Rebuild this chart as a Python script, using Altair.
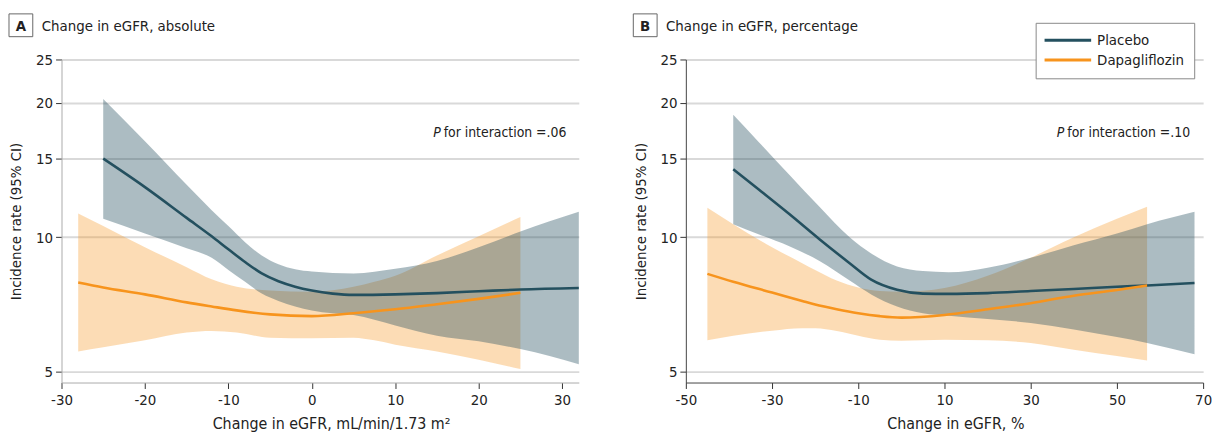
import altair as alt
import pandas as pd

FONT = "Liberation Sans Narrow, DejaVu Sans Condensed, Roboto, sans-serif"
PLACEBO = "#24505f"
DAPA = "#f7941d"

# ---------- Panel A: absolute change ----------
xA_p = [-25, -20, -15, -12, -10, -8, -6, -4, -2, 0, 2.5, 5, 10, 15, 20, 25, 32]
midA_p = [15.0, 12.95, 11.05, 10.05, 9.4, 8.8, 8.3, 7.97, 7.75, 7.6, 7.48, 7.43, 7.45, 7.5, 7.57, 7.64, 7.7]
loA_p = [11.0, 10.2, 9.45, 9.0, 8.45, 7.95, 7.48, 7.2, 7.0, 6.86, 6.76, 6.7, 6.35, 6.02, 5.85, 5.62, 5.2]
hiA_p = [20.4, 16.4, 13.1, 11.5, 10.6, 9.75, 9.1, 8.7, 8.48, 8.38, 8.32, 8.3, 8.5, 8.85, 9.5, 10.3, 11.4]

xA_d = [-28, -25, -20, -15, -12, -9, -5, 0, 5, 7.5, 10, 15, 20, 25]
midA_d = [7.92, 7.72, 7.45, 7.15, 7.0, 6.86, 6.72, 6.66, 6.76, 6.83, 6.9, 7.08, 7.28, 7.51]
loA_d = [5.55, 5.67, 5.88, 6.12, 6.17, 6.12, 5.96, 5.94, 5.96, 5.88, 5.75, 5.55, 5.32, 5.07]
hiA_d = [11.3, 10.6, 9.5, 8.57, 8.05, 7.75, 7.6, 7.55, 7.75, 7.95, 8.2, 9.1, 10.05, 11.1]

# ---------- Panel B: percentage change ----------
xB_p = [-39, -33, -26, -19, -12, -7, -1, 5, 11, 20, 30, 40, 50, 57, 68]
midB_p = [14.2, 12.77, 11.27, 9.9, 8.75, 8.04, 7.63, 7.48, 7.47, 7.5, 7.58, 7.66, 7.75, 7.8, 7.9]
loB_p = [10.7, 10.15, 9.55, 8.85, 8.0, 7.45, 7.0, 6.76, 6.67, 6.56, 6.43, 6.22, 5.98, 5.8, 5.47]
hiB_p = [18.8, 16.3, 13.8, 11.7, 10.0, 9.2, 8.6, 8.4, 8.35, 8.55, 9.0, 9.6, 10.2, 10.7, 11.4]

xB_d = [-45, -39, -30, -23, -20, -15, -10, -5, 0, 10, 20, 30, 40, 50, 57]
midB_d = [8.28, 7.95, 7.52, 7.2, 7.07, 6.9, 6.76, 6.66, 6.61, 6.7, 6.9, 7.12, 7.4, 7.62, 7.8]
loB_d = [5.88, 6.02, 6.18, 6.26, 6.26, 6.17, 6.02, 5.9, 5.87, 5.9, 5.88, 5.8, 5.6, 5.42, 5.3]
hiB_d = [11.65, 10.7, 9.5, 8.75, 8.45, 8.0, 7.72, 7.58, 7.55, 7.7, 8.2, 9.0, 10.0, 11.0, 11.7]

series = ["Placebo", "Dapagliflozin"]
y_ticks = [5, 10, 15, 20, 25]
y_domain = [4.73, 25]


def make_df(xp, lp, mp, hp, xd, ld, md, hd):
    a = pd.DataFrame({"x": xp, "lo": lp, "mid": mp, "hi": hp, "series": series[0]})
    b = pd.DataFrame({"x": xd, "lo": ld, "mid": md, "hi": hd, "series": series[1]})
    return pd.concat([a, b], ignore_index=True)


def panel(df, xdom, xticks, xtitle, letter, title, pval, p_x, p_y, dom_color, show_legend):
    xs = alt.Scale(domain=xdom, nice=False, zero=False)
    ys = alt.Scale(type="log", domain=y_domain, nice=False)
    base = alt.Chart(df)
    xenc = alt.X(
        "x:Q", scale=xs,
        axis=alt.Axis(
            values=xticks, title=xtitle, grid=False, domainColor=dom_color,
            tickColor="#333", tickSize=6, labelFontSize=15, titleFontSize=16,
            labelFont=FONT, titleFont=FONT, titleFontWeight="normal",
            labelColor="#222", titleColor="#222", labelPadding=4, titlePadding=8,
            labelExpr="'' + datum.value", labelFlush=False, titleX=272,
        ),
    )
    yenc = alt.Y(
        "mid:Q", scale=ys,
        axis=alt.Axis(
            values=y_ticks, title="Incidence rate (95% CI)", grid=True,
            gridColor="#d9d9d9", gridWidth=2, domainColor=dom_color,
            tickColor="#333", tickSize=6, labelFontSize=15, titleFontSize=15,
            labelFont=FONT, titleFont=FONT, titleFontWeight="normal",
            labelColor="#222", titleColor="#222", labelPadding=3, titlePadding=12,
        ),
    )
    area_d = base.transform_filter(alt.datum.series == series[1]).mark_area(
        color=DAPA, opacity=0.33, interpolate="monotone"
    ).encode(x=alt.X("x:Q", scale=xs), y=alt.Y("lo:Q", scale=ys), y2="hi:Q")
    area_p = base.transform_filter(alt.datum.series == series[0]).mark_area(
        color=PLACEBO, opacity=0.38, interpolate="monotone"
    ).encode(x=alt.X("x:Q", scale=xs), y=alt.Y("lo:Q", scale=ys), y2="hi:Q")

    if show_legend:
        leg = alt.Legend(
            title=None, orient="none", legendX=353, legendY=-37,
            symbolType="M-4.7,0H4.7", symbolSize=100, symbolStrokeWidth=3,
            symbolOffset=15, labelOffset=22,
            labelFontSize=15, labelFont=FONT, labelColor="#222",
            strokeColor="#888", fillColor="white", padding=10, rowPadding=4,
        )
    else:
        leg = None
    lines = base.mark_line(strokeWidth=2.6, interpolate="monotone").encode(
        x=xenc, y=yenc,
        color=alt.Color("series:N", scale=alt.Scale(domain=series, range=[PLACEBO, DAPA]), legend=leg),
        order=alt.Order("x:Q"),
    )
    # interaction annotation
    ann = pd.DataFrame({"px": [p_x], "y": [p_y], "p": ["P"], "t": ["for interaction =" + pval]})
    p_it = alt.Chart(ann).mark_text(
        font=FONT, fontSize=14, fontStyle="italic", align="right", baseline="middle", color="#222", dx=-3
    ).encode(x=alt.X("px:Q", scale=xs), y=alt.Y("y:Q", scale=ys), text="p:N")
    p_rest = alt.Chart(ann).mark_text(
        font=FONT, fontSize=14, align="left", baseline="middle", color="#222"
    ).encode(x=alt.X("px:Q", scale=xs), y=alt.Y("y:Q", scale=ys), text="t:N")

    lab = pd.DataFrame({"letter": [letter], "title": [title]})
    box = alt.Chart(lab).mark_rect(fill="white", stroke="#666", strokeWidth=1).encode(
        x=alt.value(-53), x2=alt.value(-29), y=alt.value(-46), y2=alt.value(-23)
    )
    letter_t = alt.Chart(lab).mark_text(
        font=FONT, fontSize=15, fontWeight="bold", align="center", baseline="middle", color="#222"
    ).encode(x=alt.value(-41), y=alt.value(-34), text="letter:N")
    title_t = alt.Chart(lab).mark_text(
        font=FONT, fontSize=15, align="left", baseline="middle", color="#222"
    ).encode(x=alt.value(-20), y=alt.value(-34), text="title:N")

    return alt.layer(area_d, area_p, lines, p_it, p_rest, box, letter_t, title_t).properties(
        width=522, height=326
    )


dfA = make_df(xA_p, loA_p, midA_p, hiA_p, xA_d, loA_d, midA_d, hiA_d)
dfB = make_df(xB_p, loB_p, midB_p, hiB_p, xB_d, loB_d, midB_d, hiB_d)

pA = panel(dfA, [-30, 32], [-30, -20, -10, 0, 10, 20, 30], "Change in eGFR, mL/min/1.73 m²",
           "A", "Change in eGFR, absolute", ".06", 15.8, 17.1, "#aaaaaa", False)
pB = panel(dfB, [-50, 70], [-50, -30, -10, 10, 30, 50, 70], "Change in eGFR, %",
           "B", "Change in eGFR, percentage", ".10", 38.5, 17.1, "#444444", True)

chart = alt.hconcat(pA, pB, spacing=48).resolve_scale(color="independent").properties(
    padding={"left": 0, "top": 3, "right": 5, "bottom": 2}
).configure_view(stroke=None)

chart.save("out.html", embed_options={"renderer": "svg", "actions": False})
